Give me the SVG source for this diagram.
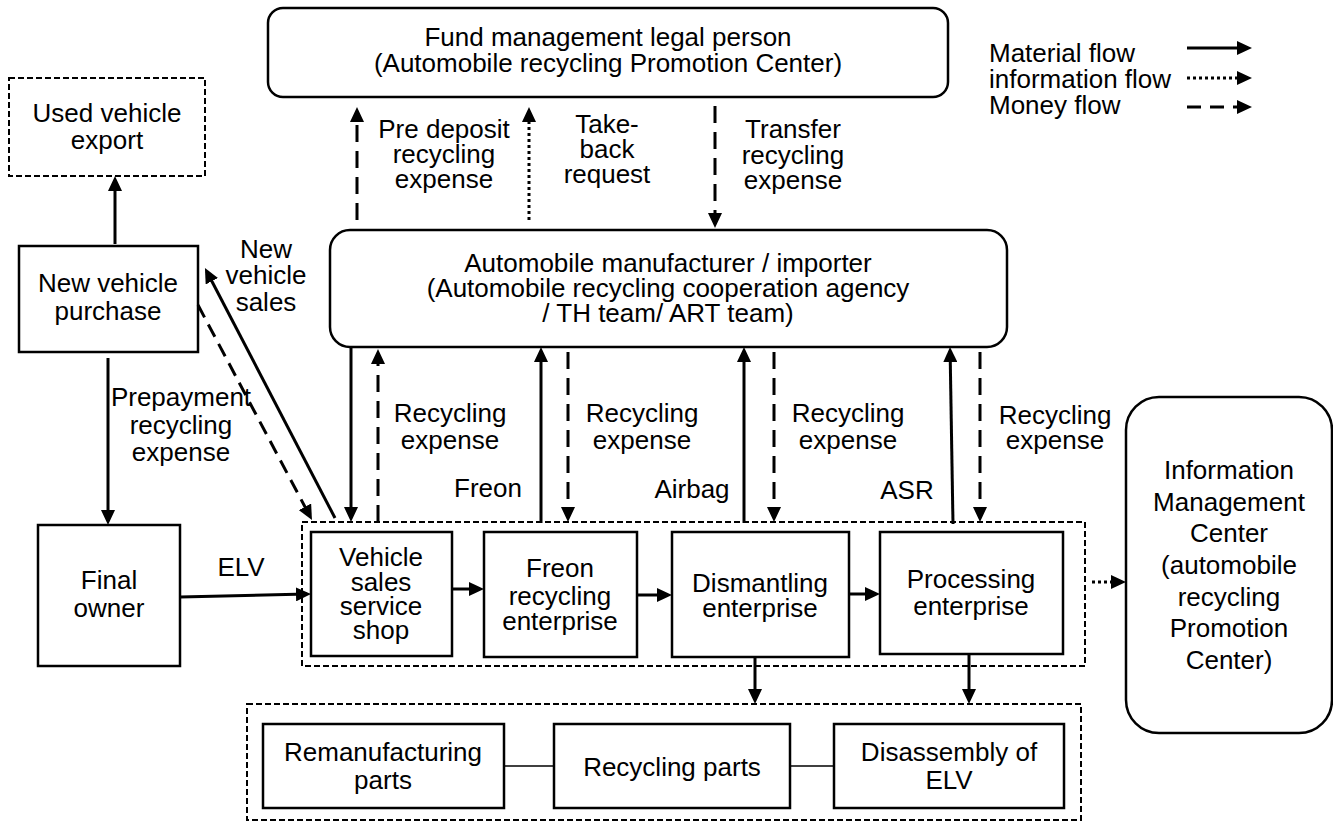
<svg xmlns="http://www.w3.org/2000/svg" width="1333" height="823" viewBox="0 0 1333 823">
<defs>
<style>
text{font-family:"Liberation Sans",Arial,sans-serif;font-size:26px;fill:#000;text-anchor:middle}
.lg{text-anchor:start}
.box{fill:#fff;stroke:#000;stroke-width:2.5}
.dbox{fill:none;stroke:#000;stroke-width:2;stroke-dasharray:6 3}
.sol{fill:none;stroke:#000;stroke-width:3;marker-end:url(#ah)}
.dsh{fill:none;stroke:#000;stroke-width:3;stroke-dasharray:17 9;marker-end:url(#ah)}
.dot{fill:none;stroke:#000;stroke-width:3;stroke-dasharray:3 3;marker-end:url(#ah)}
.thin{fill:none;stroke:#000;stroke-width:1.5}
</style>
<marker id="ah" markerUnits="userSpaceOnUse" markerWidth="15" markerHeight="14" refX="11" refY="7" orient="auto">
<path d="M0,0 L15,7 L0,14 z" fill="#000"/>
</marker>
</defs>

<g id="legend">
<text class="lg" x="989" y="62">Material flow<tspan x="989" y="88">information flow</tspan><tspan x="989" y="114">Money flow</tspan></text>
<line class="sol" x1="1187" y1="48" x2="1248" y2="48"/>
<line class="dot" x1="1187" y1="78" x2="1248" y2="78"/>
<line class="dsh" x1="1187" y1="107" x2="1248" y2="107" style="stroke-dasharray:14 9"/>
</g>

<g id="fund">
<rect class="box" x="268" y="8" width="680" height="89" rx="15"/>
<text x="608" y="46">Fund management legal person<tspan x="608" y="72">(Automobile recycling Promotion Center)</tspan></text>
</g>

<g id="used-export">
<rect class="dbox" x="9" y="78" width="196" height="98"/>
<text x="107" y="122">Used vehicle<tspan x="107" y="149">export</tspan></text>
</g>

<g id="new-purchase">
<rect class="box" x="19" y="246" width="179" height="106"/>
<text x="108" y="292">New vehicle<tspan x="108" y="320">purchase</tspan></text>
</g>

<g id="final-owner">
<rect class="box" x="38" y="525" width="142" height="141"/>
<text x="109" y="589">Final<tspan x="109" y="617">owner</tspan></text>
</g>

<g id="manufacturer">
<rect class="box" x="330" y="230" width="677" height="117" rx="20"/>
<text x="668" y="272">Automobile manufacturer / importer<tspan x="668" y="297">(Automobile recycling cooperation agency</tspan><tspan x="668" y="322">/ TH team/ ART team)</tspan></text>
</g>

<g id="enterprises">
<rect class="dbox" x="302" y="522" width="783" height="144"/>
</g>

<g id="vehicle-shop">
<rect class="box" x="311" y="532" width="141" height="124"/>
<text x="381" y="566">Vehicle<tspan x="381" y="591">sales</tspan><tspan x="381" y="615">service</tspan><tspan x="381" y="639">shop</tspan></text>
</g>

<g id="freon">
<rect class="box" x="484" y="532" width="153" height="125"/>
<text x="560" y="577">Freon<tspan x="560" y="605">recycling</tspan><tspan x="560" y="630">enterprise</tspan></text>
</g>

<g id="dismantling">
<rect class="box" x="672" y="532" width="177" height="125"/>
<text x="760" y="592">Dismantling<tspan x="760" y="617">enterprise</tspan></text>
</g>

<g id="processing">
<rect class="box" x="880" y="532" width="183" height="122"/>
<text x="971" y="588">Processing<tspan x="971" y="615">enterprise</tspan></text>
</g>

<g id="info-center">
<rect class="box" x="1126" y="397" width="206" height="336" rx="33"/>
<text x="1229" y="479">Information<tspan x="1229" y="511">Management</tspan><tspan x="1229" y="542">Center</tspan><tspan x="1229" y="574">(automobile</tspan><tspan x="1229" y="606">recycling</tspan><tspan x="1229" y="637">Promotion</tspan><tspan x="1229" y="669">Center)</tspan></text>
</g>

<g id="parts">
<rect class="dbox" x="247" y="704" width="834" height="116"/>
</g>

<g id="remanufacturing">
<rect class="box" x="263" y="724" width="241" height="84"/>
<text x="383" y="761">Remanufacturing<tspan x="383" y="789">parts</tspan></text>
</g>

<g id="recycling-parts">
<rect class="box" x="554" y="724" width="236" height="84"/>
<text x="672" y="776">Recycling parts</text>
</g>

<g id="disassembly">
<rect class="box" x="834" y="724" width="230" height="84"/>
<text x="949" y="761">Disassembly of<tspan x="949" y="789">ELV</tspan></text>
</g>

<g id="connectors">
<line class="sol" x1="115" y1="244" x2="115" y2="180"/>
<line class="sol" x1="108" y1="358" x2="108" y2="521"/>
<line class="sol" x1="335" y1="518" x2="206.8" y2="271.5"/>
<line class="dsh" x1="198" y1="305" x2="310.1" y2="516.5" style="stroke-dasharray:14 8"/>
<line class="sol" x1="180" y1="597" x2="307" y2="594.1"/>
<line class="dsh" x1="357" y1="220" x2="357" y2="111"/>
<line class="dot" x1="529" y1="220" x2="529" y2="111"/>
<line class="dsh" x1="715" y1="106" x2="715" y2="224"/>
<line class="sol" x1="351" y1="347" x2="351" y2="518"/>
<line class="dsh" x1="378" y1="522" x2="378" y2="353"/>
<line class="sol" x1="541" y1="523" x2="541" y2="351"/>
<line class="dsh" x1="568" y1="352" x2="568" y2="518"/>
<line class="sol" x1="744" y1="523" x2="744" y2="351"/>
<line class="dsh" x1="774" y1="352" x2="774" y2="518"/>
<line class="sol" x1="953" y1="524" x2="950.1" y2="351"/>
<line class="dsh" x1="980" y1="352" x2="980" y2="518"/>
<line class="sol" x1="452" y1="589" x2="480" y2="589"/>
<line class="sol" x1="637" y1="595" x2="668" y2="595"/>
<line class="sol" x1="849" y1="594" x2="876" y2="594"/>
<line class="dot" x1="1092" y1="582" x2="1122" y2="582"/>
<line class="sol" x1="755" y1="657" x2="755" y2="700"/>
<line class="sol" x1="969" y1="654" x2="969" y2="700"/>
<line class="thin" x1="504" y1="766" x2="554" y2="766"/>
<line class="thin" x1="790" y1="766" x2="834" y2="766"/>
</g>

<g id="labels">
<text x="444" y="138">Pre deposit<tspan x="444" y="163">recycling</tspan><tspan x="444" y="188">expense</tspan></text>
<text x="607" y="133">Take-<tspan x="607" y="158">back</tspan><tspan x="607" y="183">request</tspan></text>
<text x="793" y="138">Transfer<tspan x="793" y="164">recycling</tspan><tspan x="793" y="189">expense</tspan></text>
<text x="266" y="258">New<tspan x="266" y="284">vehicle</tspan><tspan x="266" y="311">sales</tspan></text>
<text x="181" y="406">Prepayment<tspan x="181" y="434">recycling</tspan><tspan x="181" y="461">expense</tspan></text>
<text x="241" y="576">ELV</text>
<text x="450" y="422">Recycling<tspan x="450" y="449">expense</tspan></text>
<text x="488" y="497">Freon</text>
<text x="642" y="422">Recycling<tspan x="642" y="449">expense</tspan></text>
<text x="692" y="498">Airbag</text>
<text x="848" y="422">Recycling<tspan x="848" y="449">expense</tspan></text>
<text x="907" y="499">ASR</text>
<text x="1055" y="424">Recycling<tspan x="1055" y="449">expense</tspan></text>
</g>
</svg>
